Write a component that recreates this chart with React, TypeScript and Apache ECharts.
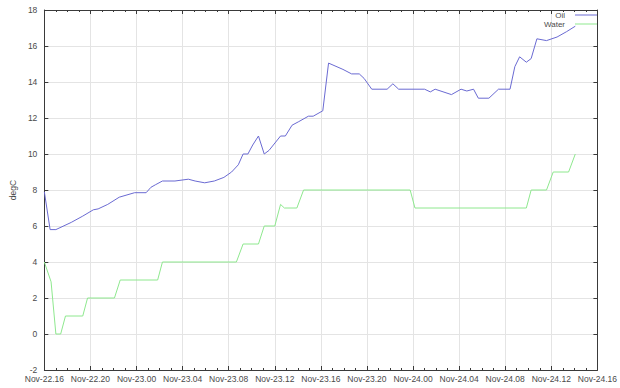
import React, { useEffect, useRef } from "react";
import * as echarts from "echarts";

// ---- data ----
const OIL_TIMES = [
  "2023-11-22 16:00", "2023-11-22 16:30", "2023-11-22 17:00", "2023-11-22 18:20", "2023-11-22 19:20",
  "2023-11-22 20:15", "2023-11-22 20:40", "2023-11-22 21:30", "2023-11-22 22:30", "2023-11-22 23:50",
  "2023-11-23 00:50", "2023-11-23 01:15", "2023-11-23 01:40", "2023-11-23 02:15", "2023-11-23 03:20",
  "2023-11-23 04:30", "2023-11-23 05:05", "2023-11-23 05:55", "2023-11-23 06:45", "2023-11-23 07:35",
  "2023-11-23 08:15", "2023-11-23 08:50", "2023-11-23 09:15", "2023-11-23 09:40", "2023-11-23 10:05",
  "2023-11-23 10:35", "2023-11-23 11:05", "2023-11-23 11:30", "2023-11-23 12:30", "2023-11-23 12:55",
  "2023-11-23 13:30", "2023-11-23 14:05", "2023-11-23 14:55", "2023-11-23 15:20", "2023-11-23 16:10",
  "2023-11-23 16:40", "2023-11-23 17:55", "2023-11-23 18:40", "2023-11-23 19:20", "2023-11-23 19:45",
  "2023-11-23 20:25", "2023-11-23 21:45", "2023-11-23 22:15", "2023-11-23 22:45", "2023-11-24 01:00",
  "2023-11-24 01:30", "2023-11-24 01:55", "2023-11-24 03:20", "2023-11-24 04:10", "2023-11-24 04:40",
  "2023-11-24 05:15", "2023-11-24 05:40", "2023-11-24 06:35", "2023-11-24 07:25", "2023-11-24 08:25",
  "2023-11-24 08:50", "2023-11-24 09:15", "2023-11-24 09:50", "2023-11-24 10:15", "2023-11-24 10:45",
  "2023-11-24 11:35", "2023-11-24 12:30", "2023-11-24 13:20", "2023-11-24 14:05",
];
const OIL_VALUES = [
  7.9, 5.8, 5.8, 6.2, 6.55,
  6.9, 6.95, 7.2, 7.6, 7.85,
  7.85, 8.15, 8.3, 8.5, 8.5,
  8.6, 8.5, 8.4, 8.5, 8.7,
  9.0, 9.4, 10.0, 10.0, 10.5,
  11.0, 10.0, 10.2, 11.0, 11.0,
  11.6, 11.8, 12.1, 12.1, 12.4,
  15.05, 14.7, 14.45, 14.45, 14.2,
  13.6, 13.6, 13.9, 13.6, 13.6,
  13.45, 13.6, 13.3, 13.6, 13.5,
  13.6, 13.1, 13.1, 13.6, 13.6,
  14.85, 15.4, 15.1, 15.3, 16.4,
  16.3, 16.5, 16.8, 17.1,
];

const WATER_TIMES = [
  "2023-11-22 16:00", "2023-11-22 16:35", "2023-11-22 17:00", "2023-11-22 17:25", "2023-11-22 17:50",
  "2023-11-22 19:20", "2023-11-22 19:45", "2023-11-22 22:05", "2023-11-22 22:35", "2023-11-23 01:50",
  "2023-11-23 02:15", "2023-11-23 08:40", "2023-11-23 09:15", "2023-11-23 10:35", "2023-11-23 11:05",
  "2023-11-23 12:00", "2023-11-23 12:30", "2023-11-23 12:50", "2023-11-23 13:55", "2023-11-23 14:30",
  "2023-11-23 23:45", "2023-11-24 00:10", "2023-11-24 09:50", "2023-11-24 10:15", "2023-11-24 11:35",
  "2023-11-24 12:10", "2023-11-24 13:30", "2023-11-24 14:05",
];
const WATER_VALUES = [
  4, 2.9, 0, 0, 1,
  1, 2, 2, 3, 3,
  4, 4, 5, 5, 6,
  6, 7.2, 7, 7, 8,
  8, 7, 7, 8, 8,
  9, 9, 10,
];

const SERIES_NAMES = ["Oil", "Water"];
const MONTHS = ["Jan", "Feb", "Mar", "Apr", "May", "Jun", "Jul", "Aug", "Sep", "Oct", "Nov", "Dec"];
const X_START = "2023-11-22 16:00";
const X_END = "2023-11-24 16:00";
const X_STEP_HOURS = 4;
const Y_MIN = -2;
const Y_MAX = 18;
const Y_STEP = 2;
const Y_NAME = "degC";

const OIL_COLOR = "#6a6ad2";
const WATER_COLOR = "#8ee88e";
const FONT = "Liberation Sans";

function toMs(s: string): number {
  const [d, t] = s.split(" ");
  const [y, m, dd] = d.split("-").map(Number);
  const [hh, mm] = t.split(":").map(Number);
  return Date.UTC(y, m - 1, dd, hh, mm);
}
const pad = (n: number) => (n < 10 ? "0" + n : "" + n);
function fmt(v: number): string {
  const d = new Date(v);
  return `${MONTHS[d.getUTCMonth()]}-${pad(d.getUTCDate())}.${pad(d.getUTCHours())}`;
}

export default function App() {
  const ref = useRef<HTMLDivElement>(null);
  useEffect(() => {
    if (!ref.current) return;
    const chart = echarts.init(ref.current, null, { renderer: "svg" });
    const xMin = toMs(X_START);
    const xMax = toMs(X_END);
    const interval = X_STEP_HOURS * 3600 * 1000;
    const axisColor = "#3a3a3a";
    const gridColor = "#e4e4e4";
    const labelStyle = { color: "#4a4a4a", fontSize: 8.5, fontFamily: FONT };

    const legendCommon = {
      orient: "vertical" as const,
      right: 23,
      align: "right" as const,
      itemWidth: 22,
      itemHeight: 1,
      icon: "rect",
      textStyle: { color: "#4a4a4a", fontSize: 8, fontFamily: FONT, padding: [0, 5, 0, 0] },
      padding: 0,
    };

    chart.setOption({
      animation: false,
      backgroundColor: "#ffffff",
      grid: { left: 35, right: 15, top: 10, bottom: 18, containLabel: false },
      legend: [
        { ...legendCommon, top: 11, data: [{ name: SERIES_NAMES[0], itemStyle: { color: OIL_COLOR } }] },
        { ...legendCommon, top: 20, data: [{ name: SERIES_NAMES[1], itemStyle: { color: WATER_COLOR } }] },
      ],
      xAxis: [
        {
          type: "value",
          min: xMin,
          max: xMax,
          interval,
          position: "bottom",
          axisLine: { show: true, onZero: false, lineStyle: { color: axisColor, width: 1 } },
          axisTick: { show: true, inside: true, length: 4, lineStyle: { color: axisColor } },
          minorTick: { show: true, splitNumber: 4, length: 2, lineStyle: { color: axisColor } },
          axisLabel: { ...labelStyle, margin: 4, formatter: (v: number) => fmt(v), showMinLabel: true, showMaxLabel: true, hideOverlap: false },
          splitLine: { show: true, lineStyle: { color: gridColor, width: 1 } },
        },
        {
          type: "value",
          min: xMin,
          max: xMax,
          interval,
          position: "top",
          axisLine: { show: true, onZero: false, lineStyle: { color: axisColor, width: 1 } },
          axisTick: { show: true, inside: true, length: 4, lineStyle: { color: axisColor } },
          minorTick: { show: true, splitNumber: 4, length: 2, lineStyle: { color: axisColor } },
          axisLabel: { show: false },
          splitLine: { show: false },
        },
      ],
      yAxis: [
        {
          type: "value",
          min: Y_MIN,
          max: Y_MAX,
          interval: Y_STEP,
          position: "left",
          name: Y_NAME,
          nameLocation: "middle",
          nameRotate: 90,
          nameGap: 24,
          nameTextStyle: { ...labelStyle },
          axisLine: { show: true, onZero: false, lineStyle: { color: axisColor, width: 1 } },
          axisTick: { show: true, inside: true, length: 4, lineStyle: { color: axisColor } },
          axisLabel: { ...labelStyle, margin: 7 },
          splitLine: { show: true, lineStyle: { color: gridColor, width: 1 } },
        },
        {
          type: "value",
          min: Y_MIN,
          max: Y_MAX,
          interval: Y_STEP,
          position: "right",
          axisLine: { show: true, onZero: false, lineStyle: { color: axisColor, width: 1 } },
          axisTick: { show: true, inside: true, length: 4, lineStyle: { color: axisColor } },
          axisLabel: { show: false },
          splitLine: { show: false },
        },
      ],
      series: [
        {
          name: SERIES_NAMES[0],
          type: "line",
          xAxisIndex: 0,
          yAxisIndex: 0,
          showSymbol: false,
          symbol: "none",
          color: OIL_COLOR,
          lineStyle: { color: OIL_COLOR, width: 1 },
          data: OIL_TIMES.map((t, i) => [toMs(t), OIL_VALUES[i]]),
        },
        {
          name: SERIES_NAMES[1],
          type: "line",
          xAxisIndex: 0,
          yAxisIndex: 0,
          showSymbol: false,
          symbol: "none",
          color: WATER_COLOR,
          lineStyle: { color: WATER_COLOR, width: 1 },
          data: WATER_TIMES.map((t, i) => [toMs(t), WATER_VALUES[i]]),
        },
      ],
    });
    return () => chart.dispose();
  }, []);

  return (
    <div
      ref={ref}
      style={{ position: "fixed", left: 0, top: 0, width: 620, height: 388, background: "#fff" }}
    />
  );
}
